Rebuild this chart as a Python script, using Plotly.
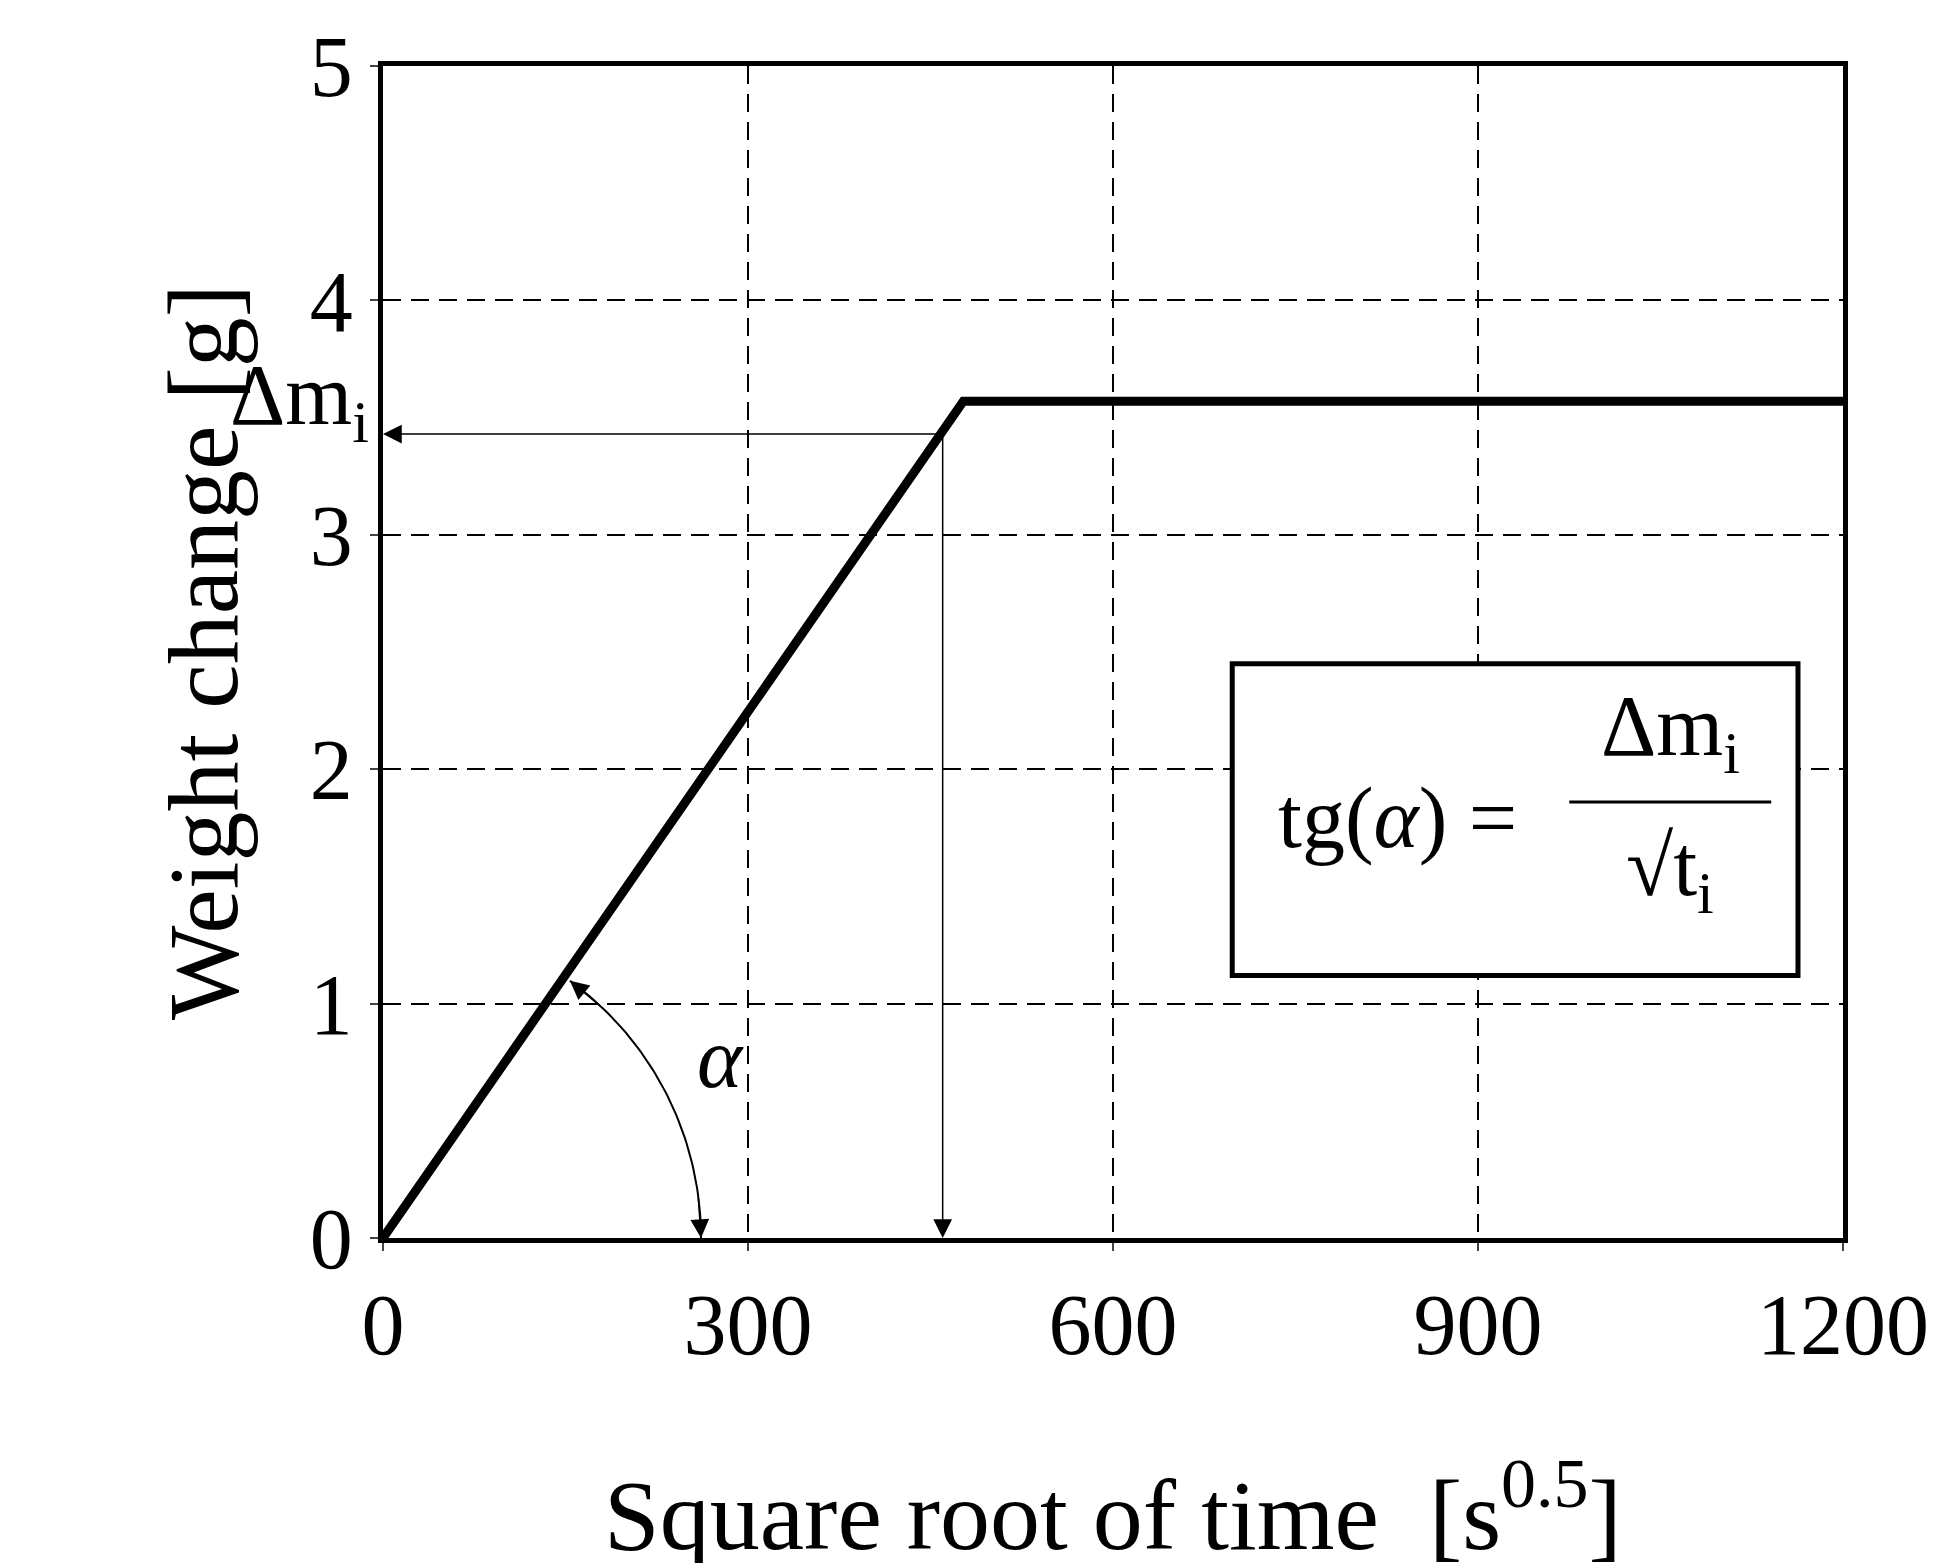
import numpy as np
import plotly.graph_objects as go

x_line = [0, 477, 1200]
y_line = [0, 3.57, 3.57]
x_ticks = [0, 300, 600, 900, 1200]
y_ticks = [0, 1, 2, 3, 4, 5]
x_i, dm_i = 460, 3.43

W, H = 1938, 1563
L, R, T, B = 375, 103, 58, 333
pw, ph = W - L - R, H - T - B
F = "Liberation Serif, DejaVu Serif, serif"
BIG = 86

fig = go.Figure()
fig.add_trace(go.Scatter(x=x_line, y=y_line, mode="lines", line=dict(color="black", width=9), showlegend=False))

rpx = 318
th = np.linspace(0, np.deg2rad(54), 60)
ax_ = rpx * np.cos(th) * 1200 / pw
ay_ = rpx * np.sin(th) * 5 / ph
fig.add_trace(go.Scatter(x=ax_, y=ay_, mode="lines", line=dict(color="black", width=2), showlegend=False))

ann = []
def arrow(x, y, fx, fy):
    ann.append(dict(x=x, y=y, ax=fx, ay=fy, xref="x", yref="y", axref="x", ayref="y",
                    showarrow=True, arrowhead=2, arrowsize=2.5, arrowwidth=1.5, arrowcolor="black", text=""))
arrow(0, dm_i, x_i, dm_i)
arrow(x_i, 0, x_i, dm_i)
arrow(ax_[0], ay_[0], ax_[8], ay_[8])
arrow(ax_[-1], ay_[-1], ax_[-9], ay_[-9])

def txt(x, y, t, **kw):
    d = dict(x=x, y=y, xref="x", yref="y", text=t, showarrow=False, font=dict(family=F, size=BIG, color="black"))
    d.update(kw)
    ann.append(d)

txt(-0.008, 3.57, "Δm<sub>i</sub>", xref="paper", xanchor="right")
txt(440, -0.45, "√t<sub>i</sub>")
txt(277, 0.77, "<i>α</i>")
txt(834, 1.79, "tg(<i>α</i>) =")
txt(1058, 1.92, "Δm<sub>i</sub>", yanchor="bottom")
txt(1058, 1.80, "√t<sub>i</sub>", yanchor="top")

shapes = [
    dict(type="rect", x0=698, x1=1163, y0=1.12, y1=2.45, xref="x", yref="y", line=dict(color="black", width=5), fillcolor="white", layer="above"),
    dict(type="line", x0=975, x1=1141, y0=1.86, y1=1.86, xref="x", yref="y", line=dict(color="black", width=3)),
]

axcommon = dict(ticks="outside", ticklen=8, tickwidth=2,
                showgrid=True, gridcolor="black", griddash="18px,10px", gridwidth=2,
                showline=True, linecolor="black", linewidth=5, mirror=True, zeroline=False,
                tickfont=dict(size=BIG, family=F))
fig.update_layout(
    width=W, height=H, margin=dict(l=L, r=R, t=T, b=B),
    plot_bgcolor="white", paper_bgcolor="white",
    annotations=ann, shapes=shapes,
    font=dict(family=F, color="black"),
    xaxis=dict(range=[0, 1200], tickvals=x_ticks, **axcommon,
               title=dict(text="Square root of time  [s<sup>0.5</sup>]", font=dict(size=100, family=F), standoff=110)),
    yaxis=dict(range=[0, 5], tickvals=y_ticks, **axcommon,
               title=dict(text="Weight change [g]", font=dict(size=100, family=F), standoff=40)),
)
fig.write_html("out.html")
